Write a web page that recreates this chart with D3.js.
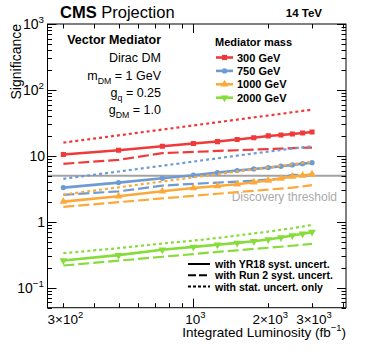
<!DOCTYPE html>
<html>
<head>
<meta charset="utf-8">
<script src="https://cdn.jsdelivr.net/npm/d3@7"></script>
<style>
  body { margin: 0; background: #fff; }
  text { font-family: "Liberation Sans", Arial, Helvetica, sans-serif; }
</style>
</head>
<body>
<svg id="chart" width="367" height="354"></svg>
<script>
// integrated luminosity points (fb^-1)
var lumi = [300, 500, 750, 1000, 1250, 1500, 1750, 2000, 2250, 2500, 2750, 3000];

// significance
var m300_yr18 = [10.5, 12.2, 14.0, 15.4, 16.5, 17.7, 18.9, 20.1, 20.8, 21.5, 22.3, 23.1];
var m300_run2 = [7.6, 8.7, 11.0, 11.5, 11.9, 12.2, 12.5, 12.7, 12.9, 13.1, 13.3, 13.4];
var m300_stat = [15.9, 20.5, 25.1, 29.0, 32.4, 35.5, 38.4, 41.0, 43.5, 45.9, 48.1, 50.3];

var m750_yr18 = [3.31, 3.94, 4.59, 5.1, 5.58, 6.0, 6.35, 6.65, 6.97, 7.3, 7.64, 7.9];
var m750_run2 = [2.57, 2.9, 3.55, 3.77, 3.95, 4.08, 4.23, 4.38, 4.54, 5.2, 5.03, 5.15];
var m750_stat = [4.5, 5.8, 7.1, 8.2, 9.2, 10.1, 10.9, 11.6, 12.3, 13.0, 13.5, 13.9];

var m1000_yr18 = [2.03, 2.45, 2.92, 3.27, 3.5, 3.71, 3.98, 4.23, 4.55, 4.86, 5.05, 5.27];
var m1000_run2 = [1.69, 1.99, 2.27, 2.48, 2.67, 2.82, 2.96, 3.08, 3.2, 3.3, 3.45, 3.6];
var m1000_stat = [2.59, 3.34, 4.1, 4.73, 5.29, 5.79, 6.25, 6.69, 7.09, 7.48, 7.84, 8.1];

var m2000_yr18 = [0.26, 0.313, 0.377, 0.418, 0.45, 0.48, 0.51, 0.54, 0.58, 0.62, 0.66, 0.70];
var m2000_run2 = [0.218, 0.258, 0.296, 0.325, 0.35, 0.37, 0.39, 0.405, 0.42, 0.435, 0.45, 0.464];
var m2000_stat = [0.335, 0.40, 0.47, 0.52, 0.57, 0.62, 0.67, 0.71, 0.76, 0.80, 0.85, 0.90];

var massLabels = ["300 GeV", "750 GeV", "1000 GeV", "2000 GeV"];
var styleLabels = ["with YR18 syst. uncert.", "with Run 2 syst. uncert.", "with stat. uncert. only"];
var threshold = 5;

var colors = ["#f03a3a", "#6e9bd3", "#fca93c", "#86dc3a"];
var symbols = [d3.symbolSquare, d3.symbolCircle, d3.symbolTriangle, d3.symbolTriangle];
var symRot = [0, 0, 0, 180];
var dashes = [null, "11,4", "3,3"];

var series = [
  [m300_yr18, m300_run2, m300_stat],
  [m750_yr18, m750_run2, m750_stat],
  [m1000_yr18, m1000_run2, m1000_stat],
  [m2000_yr18, m2000_run2, m2000_stat]
];

var L = 47.5, R = 346, T = 24, B = 307.7;

var svg = d3.select("#chart");

var x = d3.scaleLog().domain([259, 4110]).range([L, R]);
var y = d3.scaleLog().domain([0.05, 1000]).range([B, T]);

// small helper for text with sub/superscripts: parts = [[str, "sup"|"sub"|null], ...]
function richText(g, px, py, parts, opts) {
  var t = g.append("text").attr("x", px).attr("y", py)
    .attr("font-size", opts.size).attr("fill", opts.fill || "#000")
    .attr("font-weight", opts.weight || "normal")
    .attr("text-anchor", opts.anchor || "start");
  parts.forEach(function(p) {
    var s = t.append("tspan").text(p[0]);
    if (p[1] == "sup") s.attr("font-size", opts.size * 0.7).attr("dy", -opts.size * 0.45);
    if (p[1] == "sub") s.attr("font-size", opts.size * 0.7).attr("dy", opts.size * 0.3);
    if (p[2]) s.attr("dy", p[2]);
  });
  return t;
}

svg.append("clipPath").attr("id", "frame")
  .append("rect").attr("x", L).attr("y", T).attr("width", R - L).attr("height", B - T);

// threshold
svg.append("line")
  .attr("x1", L).attr("x2", R).attr("y1", y(threshold)).attr("y2", y(threshold))
  .attr("stroke", "#a3a3a3").attr("stroke-width", 2);

svg.append("text").attr("x", 337).attr("y", 201).attr("text-anchor", "end")
  .attr("font-size", 12).attr("fill", "#aaaaaa").text("Discovery threshold");

var plot = svg.append("g").attr("clip-path", "url(#frame)");
var line = d3.line().x(function(d) { return x(d[0]); }).y(function(d) { return y(d[1]); });

series.forEach(function(set, i) {
  set.forEach(function(vals, j) {
    var pts = lumi.map(function(l, k) { return [l, vals[k]]; });
    plot.append("path").datum(pts)
      .attr("d", line)
      .attr("fill", "none")
      .attr("stroke", colors[i])
      .attr("stroke-width", j == 0 ? 2.6 : 2.2)
      .attr("stroke-dasharray", dashes[j]);
    if (j == 0) {
      plot.selectAll(null).data(pts).enter().append("path")
        .attr("d", d3.symbol().type(symbols[i]).size(i == 1 ? 22 : 26))
        .attr("transform", function(d) {
          return "translate(" + x(d[0]) + "," + y(d[1]) + ") rotate(" + symRot[i] + ")";
        })
        .attr("fill", colors[i]);
    }
  });
});

// frame + ticks
var axes = svg.append("g").attr("stroke", "#000").attr("stroke-width", 1);
axes.append("rect").attr("x", L).attr("y", T).attr("width", R - L).attr("height", B - T)
  .attr("fill", "none");

var yMajor = [0.1, 1, 10, 100, 1000];
var yMinor = [];
[0.01, 0.1, 1, 10, 100].forEach(function(dec) {
  for (var k = 2; k <= 9; k++) {
    var v = dec * k;
    if (v >= 0.05 && v < 1000) yMinor.push(v);
  }
});
var xMajor = [1000];
var xMinor = [300, 400, 500, 600, 700, 800, 900, 2000, 3000, 4000];

function hTicks(vals, len) {
  vals.forEach(function(v) {
    var yy = Math.round(y(v)) + 0.5;
    axes.append("line").attr("x1", L).attr("x2", L + len).attr("y1", yy).attr("y2", yy);
    axes.append("line").attr("x1", R).attr("x2", R - len).attr("y1", yy).attr("y2", yy);
  });
}
function vTicks(vals, len) {
  vals.forEach(function(v) {
    var xx = Math.round(x(v)) + 0.5;
    axes.append("line").attr("x1", xx).attr("x2", xx).attr("y1", B).attr("y2", B - len);
    axes.append("line").attr("x1", xx).attr("x2", xx).attr("y1", T).attr("y2", T + len);
  });
}
hTicks(yMajor, 9);
hTicks(yMinor, 4.5);
vTicks(xMajor, 9);
vTicks(xMinor, 4.5);

// y tick labels
var yLab = [
  [1000, [["10"], ["3", "sup"]]],
  [100, [["10"], ["2", "sup"]]],
  [10, [["10"]]],
  [1, [["1"]]],
  [0.1, [["10"], ["\u22121", "sup"]]]
];
yLab.forEach(function(d) {
  var hasSup = d[1].length > 1;
  richText(svg, hasSup ? 44 : 45, y(d[0]) + 5, d[1], { size: 14, anchor: "end" });
});

// x tick labels
var xLab = [
  [300, [["3\u00d710"], ["2", "sup"]]],
  [1000, [["10"], ["3", "sup"]]],
  [2000, [["2\u00d710"], ["3", "sup"]]],
  [3000, [["3\u00d710"], ["3", "sup"]]]
];
xLab.forEach(function(d) {
  richText(svg, x(d[0]) + 2, 324, d[1], { size: 13.5, anchor: "middle" });
});

richText(svg, 346, 337, [["Integrated Luminosity (fb"], ["\u22121", "sup"], [")", null, 6]], { size: 13.5, anchor: "end" });

svg.append("text")
  .attr("transform", "translate(21,24) rotate(-90)")
  .attr("text-anchor", "end").attr("font-size", 14).text("Significance");

// header
var head = svg.append("text").attr("x", 60).attr("y", 18).attr("font-size", 16.5);
head.append("tspan").attr("font-weight", "bold").text("CMS");
head.append("tspan").text(" Projection");
svg.append("text").attr("x", 322).attr("y", 17).attr("text-anchor", "end")
  .attr("font-size", 11.5).attr("font-weight", "bold").text("14 TeV");

// model text
var mx = 161;
svg.append("text").attr("x", mx).attr("y", 44).attr("text-anchor", "end")
  .attr("font-size", 12.5).attr("font-weight", "bold").text("Vector Mediator");
svg.append("text").attr("x", mx).attr("y", 62).attr("text-anchor", "end")
  .attr("font-size", 12.5).text("Dirac DM");
richText(svg, mx, 80, [["m"], ["DM", "sub"], [" = 1 GeV", null, -3.75]], { size: 12.5, anchor: "end" });
richText(svg, mx, 97, [["g"], ["q", "sub"], [" = 0.25", null, -3.75]], { size: 12.5, anchor: "end" });
richText(svg, mx, 114, [["g"], ["DM", "sub"], [" = 1.0", null, -3.75]], { size: 12.5, anchor: "end" });

// mass legend
svg.append("text").attr("x", 215).attr("y", 46).attr("font-size", 11)
  .attr("font-weight", "bold").text("Mediator mass");
massLabels.forEach(function(lab, i) {
  var ly = 57.5 + i * 13.4;
  svg.append("line").attr("x1", 216).attr("x2", 233).attr("y1", ly).attr("y2", ly)
    .attr("stroke", colors[i]).attr("stroke-width", 2.6);
  svg.append("path")
    .attr("d", d3.symbol().type(symbols[i]).size(i == 1 ? 22 : 26))
    .attr("transform", "translate(224.5," + ly + ") rotate(" + symRot[i] + ")")
    .attr("fill", colors[i]);
  svg.append("text").attr("x", 237).attr("y", ly + 4).attr("font-size", 11)
    .attr("font-weight", "bold").text(lab);
});

// line style legend
styleLabels.forEach(function(lab, j) {
  var ly = 264 + j * 11.3;
  svg.append("line").attr("x1", 188).attr("x2", 210).attr("y1", ly).attr("y2", ly)
    .attr("stroke", "#000").attr("stroke-width", 2)
    .attr("stroke-dasharray", j == 0 ? null : (j == 1 ? "8,3" : "3,2"));
  svg.append("text").attr("x", 215).attr("y", ly + 4).attr("font-size", 10.5)
    .attr("font-weight", "bold").text(lab);
});
</script>
</body>
</html>
